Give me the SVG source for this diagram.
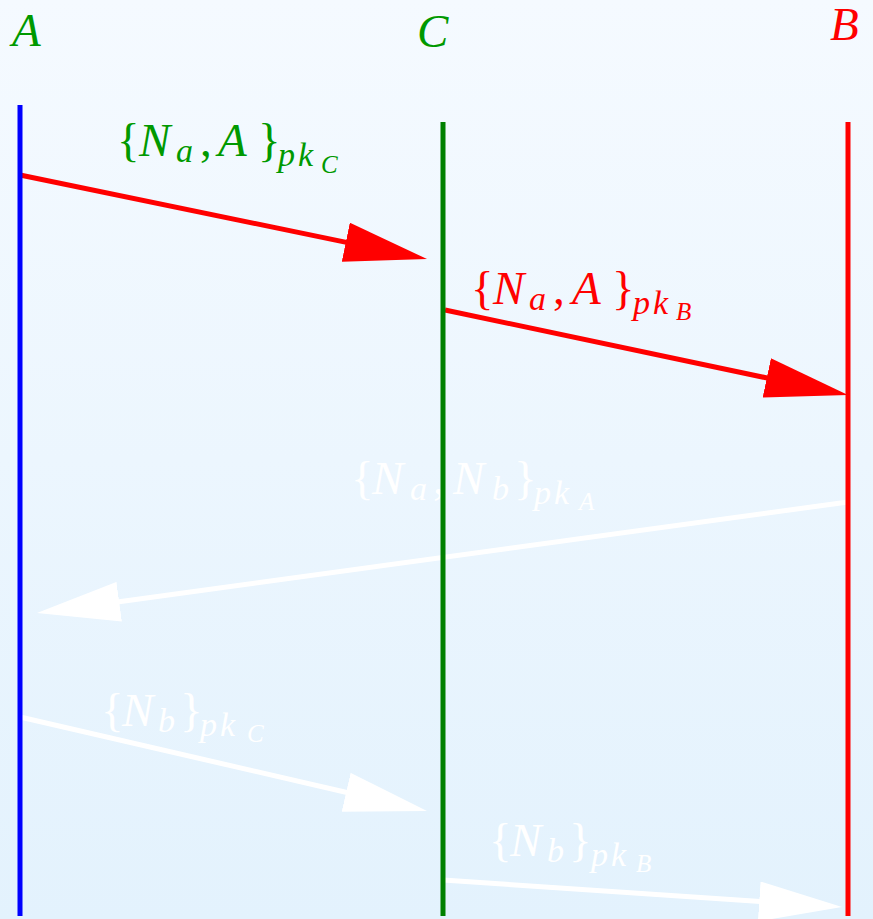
<svg xmlns="http://www.w3.org/2000/svg" width="873" height="919" viewBox="0 0 873 919">
<defs>
<linearGradient id="bg" x1="0" y1="0" x2="0" y2="1">
<stop offset="0" stop-color="#f5faff"/>
<stop offset="1" stop-color="#e3f2fd"/>
</linearGradient>
<marker id="ahRed" viewBox="0 0 83 40" markerWidth="83" markerHeight="40" refX="13" refY="20" markerUnits="userSpaceOnUse" orient="auto">
<path d="M0,0 L83,20 L0,40 Z" fill="#ff0000"/>
</marker>
<marker id="ahWhite" viewBox="0 0 83 40" markerWidth="83" markerHeight="40" refX="13" refY="20" markerUnits="userSpaceOnUse" orient="auto">
<path d="M0,0 L83,20 L0,40 Z" fill="#ffffff"/>
</marker>
</defs>
<style>
.m{font-family:"Liberation Serif","Times New Roman",serif;}
.i{font-style:italic;}
.big{font-size:47px;}
.sub{font-size:34px;}
.pk{font-size:34px;letter-spacing:3px;}
.ss{font-size:25px;}
.green{fill:#009900;}
.red{fill:#ff0000;}
.white{fill:#ffffff;}
.life{stroke-width:5;fill:none;}
.msg{stroke-width:5;fill:none;}
.msgRed{stroke:#ff0000;marker-end:url(#ahRed);}
.msgWhite{stroke:#ffffff;marker-end:url(#ahWhite);}
</style>
<rect x="0" y="0" width="873" height="919" fill="url(#bg)"/>

<g id="connectors">
<g id="msg1">
<line class="msg msgRed" x1="20" y1="175" x2="358.5" y2="244.9"/>
<text class="m big green"><tspan x="117" y="156">{</tspan><tspan class="i" x="139" y="156">N</tspan><tspan class="i sub" x="176" y="162">a</tspan><tspan x="200" y="156">,</tspan><tspan class="i" x="218" y="156">A</tspan><tspan x="258" y="156">}</tspan><tspan class="i pk" x="278" y="166">pk</tspan><tspan class="i ss" x="321" y="173">C</tspan></text>
</g>
<g id="msg2">
<line class="msg msgRed" x1="445" y1="310" x2="779.5" y2="380.6"/>
<text class="m big red"><tspan x="471" y="304">{</tspan><tspan class="i" x="493" y="304">N</tspan><tspan class="i sub" x="529" y="310">a</tspan><tspan x="553" y="304">,</tspan><tspan class="i" x="572" y="304">A</tspan><tspan x="612" y="304">}</tspan><tspan class="i pk" x="633" y="314">pk</tspan><tspan class="i ss" x="676" y="320">B</tspan></text>
</g>
<g id="msg3">
<line class="msg msgWhite" x1="848" y1="502" x2="106.3" y2="603.5"/>
<text class="m big white"><tspan x="351" y="494">{</tspan><tspan class="i" x="372" y="494">N</tspan><tspan class="i sub" x="410" y="500">a</tspan><tspan x="433" y="494">,</tspan><tspan class="i" x="453" y="494">N</tspan><tspan class="i sub" x="492" y="500">b</tspan><tspan x="514" y="494">}</tspan><tspan class="i pk" x="534" y="504">pk</tspan><tspan class="i ss" x="579" y="510">A</tspan></text>
</g>
<g id="msg4">
<line class="msg msgWhite" x1="20" y1="717" x2="358.8" y2="795.25"/>
<text class="m big white"><tspan x="101" y="726">{</tspan><tspan class="i" x="122" y="726">N</tspan><tspan class="i sub" x="158" y="732">b</tspan><tspan x="180" y="726">}</tspan><tspan class="i pk" x="200" y="736">pk</tspan><tspan class="i ss" x="247" y="742">C</tspan></text>
</g>
<g id="msg5">
<line class="msg msgWhite" x1="443" y1="880" x2="772.2" y2="902.3"/>
<text class="m big white"><tspan x="489" y="856">{</tspan><tspan class="i" x="510" y="856">N</tspan><tspan class="i sub" x="547" y="862">b</tspan><tspan x="569" y="856">}</tspan><tspan class="i pk" x="591" y="866">pk</tspan><tspan class="i ss" x="636" y="872">B</tspan></text>
</g>
</g>

<g id="nodeA">
<text class="m i big green" x="12" y="46">A</text>
<line class="life" stroke="#0000ff" x1="20" y1="105" x2="20" y2="916"/>
</g>
<g id="nodeC">
<text class="m i big green" x="417" y="47">C</text>
<line class="life" stroke="#008000" x1="443" y1="122" x2="443" y2="916"/>
</g>
<g id="nodeB">
<text class="m i big red" x="830" y="40">B</text>
<line class="life" stroke="#ff0000" x1="848" y1="122" x2="848" y2="916"/>
</g>
</svg>
